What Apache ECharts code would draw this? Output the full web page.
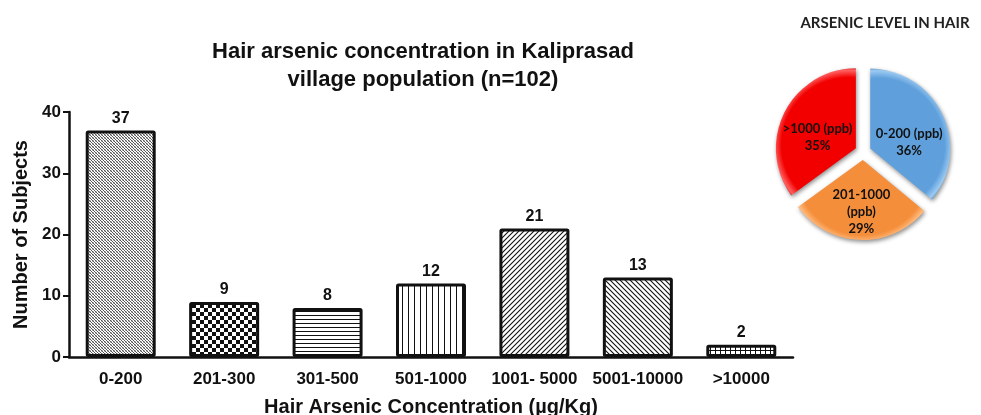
<!DOCTYPE html>
<html><head><meta charset="utf-8">
<script src="https://cdn.jsdelivr.net/npm/echarts@6/dist/echarts.min.js"></script>
<style>html,body{margin:0;padding:0;background:#fff}#c{width:981px;height:415px}</style>
</head><body><div id="c"></div>
<script>
const categories = ['0-200','201-300','301-500','501-1000','1001- 5000','5001-10000','>10000'];
const subjects = [37, 9, 8, 12, 21, 13, 2];
const yTicks = [0, 10, 20, 30, 40];
const pieNames = ['0-200 (ppb)', '201-1000\n(ppb)', '>1000 (ppb)'];
const piePercents = [36, 29, 35];

function pat(size, draw){
  const c = document.createElement('canvas'); c.width = size; c.height = size;
  const g = c.getContext('2d'); g.fillStyle = '#fff'; g.fillRect(0,0,size,size);
  g.fillStyle = '#111'; g.strokeStyle = '#111'; draw(g, size); return c;
}
const patterns = [
  pat(3, (g)=>{ g.fillStyle='#555'; g.fillRect(0,0,1,1); g.fillRect(1,1,1,1); g.fillRect(2,2,1,1); g.fillStyle='#bbb'; g.fillRect(2,0,1,1); g.fillRect(0,2,1,1);}),
  pat(8, (g)=>{ g.fillRect(0,0,4,4); g.fillRect(4,4,4,4);}),
  pat(4, (g)=>{ g.fillRect(0,3,4,1);}),
  pat(6, (g)=>{ g.fillRect(0,0,1,6);}),
  pat(5, (g)=>{ g.lineWidth=1.1; g.beginPath(); g.moveTo(-1,6); g.lineTo(6,-1); g.moveTo(-1,1); g.lineTo(1,-1); g.moveTo(4,6); g.lineTo(6,4); g.stroke();}),
  pat(5, (g)=>{ g.lineWidth=1.1; g.beginPath(); g.moveTo(-1,-1); g.lineTo(6,6); g.moveTo(4,-1); g.lineTo(6,1); g.moveTo(-1,4); g.lineTo(1,6); g.stroke();}),
  pat(5, (g)=>{ g.fillRect(0,0,5,1); g.fillRect(0,0,1,5);})
];

const barData = subjects.map((v,i)=>({value:v, itemStyle:{color:{image:patterns[i], repeat:'repeat'}}}));

const PCX = 863, PCY = 152, PR = 80, POFF = 8;
const pieColors = [
  ['#9ccaf2','#5fa0dc','#3a6fa3'],
  ['#ffbb80','#f48e3a','#b85e18'],
  ['#ff6060','#f20000','#a80000']
];
const labelDy = [12, 9, 8];
let acc = 0;
const total = piePercents.reduce((a,b)=>a+b,0);
const pieData = piePercents.map((p,i)=>{
  const mid = (acc + p/2)/total*2*Math.PI; acc += p;
  const cx = PCX + POFF*Math.sin(mid), cy = PCY - POFF*Math.cos(mid);
  return {
    value:p, name:pieNames[i], selected:true,
    itemStyle:{color:{type:'radial', x:cx, y:cy, r:PR, global:true, colorStops:[
      {offset:0, color:pieColors[i][1]},{offset:0.84, color:pieColors[i][1]},{offset:0.93, color:pieColors[i][0]},{offset:1, color:pieColors[i][2]}]}}
  };
});

const chart = echarts.init(document.getElementById('c'), null, {renderer:'canvas'});
chart.setOption({
  animation:false,
  backgroundColor:'#fff',
  title:[
    {text:'Hair arsenic concentration in Kaliprasad\nvillage population (n=102)', left:418, top:33, textAlign:'center',
     textStyle:{fontFamily:'Liberation Sans', fontWeight:'bold', fontSize:22, color:'#111', lineHeight:28}},
    {text:'ARSENIC LEVEL IN HAIR', left:880, top:11, textAlign:'center',
     textStyle:{fontFamily:'Lato', fontWeight:'bold', fontSize:15, color:'#222'}}
  ],
  grid:{left:69, right:188, top:112, bottom:58, containLabel:false, outerBoundsMode:'none'},
  xAxis:{type:'category', data:categories,
    axisLine:{lineStyle:{color:'#111', width:2.5}},
    axisTick:{alignWithLabel:true, length:6, lineStyle:{color:'#111', width:2}},
    axisLabel:{fontFamily:'Liberation Sans', fontWeight:'bold', fontSize:17, color:'#111', margin:14, interval:0},
    name:'Hair Arsenic Concentration (µg/Kg)', nameLocation:'middle', nameGap:40,
    nameTextStyle:{fontFamily:'Liberation Sans', fontWeight:'bold', fontSize:20, color:'#111'}
  },
  yAxis:{type:'value', min:yTicks[0], max:yTicks[yTicks.length-1], interval:10,
    splitLine:{show:false},
    axisLine:{show:true, lineStyle:{color:'#111', width:2.5}},
    axisTick:{show:true, length:6, lineStyle:{color:'#111', width:2}},
    axisLabel:{fontFamily:'Liberation Sans', fontWeight:'bold', fontSize:17, color:'#111', margin:8},
    name:'Number of Subjects', nameLocation:'middle', nameGap:38, nameRotate:90,
    nameTextStyle:{fontFamily:'Liberation Sans', fontWeight:'bold', fontSize:20, color:'#111'}
  },
  series:[
    {type:'bar', data:barData, barWidth:70,
      itemStyle:{borderColor:'#111', borderWidth:3, borderRadius:1},
      label:{show:true, position:'top', distance:4, fontFamily:'Liberation Sans', fontWeight:'bold', fontSize:16, color:'#111'}
    },
    {type:'pie', center:[PCX,PCY], radius:[0,PR], startAngle:90, clockwise:true,
      selectedMode:'multiple', selectedOffset:POFF, silent:true,
      itemStyle:{shadowBlur:4, shadowColor:'rgba(0,0,0,0.45)', shadowOffsetX:1, shadowOffsetY:2},
      label:{show:true, position:'inside', formatter:'{b}\n{c}%', fontFamily:'Lato', fontWeight:'bold', fontSize:13, color:'#111', lineHeight:17},
      labelLine:{show:false},
      labelLayout:(p)=>({dy: labelDy[p.dataIndex]}),
      data:pieData
    }
  ]
});
</script></body></html>
